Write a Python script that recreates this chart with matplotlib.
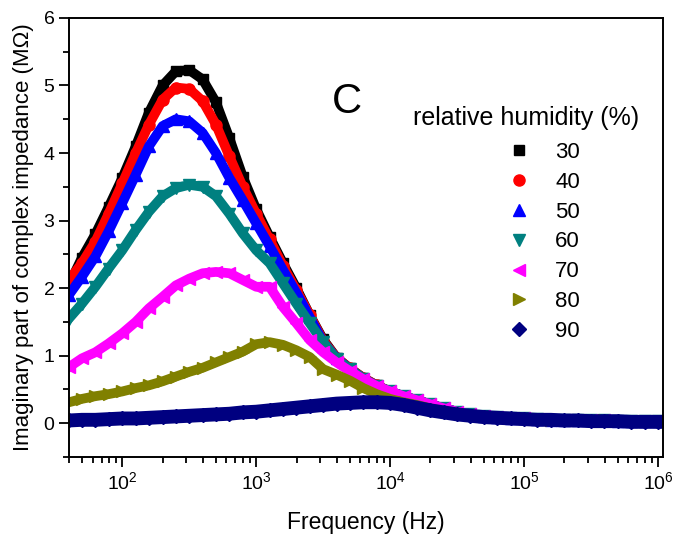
import numpy as np
import matplotlib
matplotlib.use('Agg')
import matplotlib.pyplot as plt
from matplotlib.ticker import MultipleLocator, LogLocator, NullFormatter

plt.rcParams['font.family'] = 'Liberation Sans'
plt.rcParams['mathtext.fontset'] = 'custom'
plt.rcParams['mathtext.rm'] = 'Liberation Sans'
plt.rcParams['mathtext.it'] = 'Liberation Sans'
plt.rcParams['mathtext.bf'] = 'Liberation Sans'

# frequency points (Hz)
freq = [40, 50, 63, 79, 100, 126, 158, 200, 251, 316, 398, 501, 631, 794,
        1000, 1259, 1585, 1995, 2512, 3162, 3981, 5012, 6310, 7943,
        1e4, 12589, 15849, 19953, 25119, 31623, 39811, 50119, 63096, 79433,
        1e5, 125893, 158489, 199526, 251189, 316228, 398107, 501187, 630957, 794328, 1e6]

# imaginary impedance (MOhm) for each relative humidity
rh30 = [2.05, 2.45, 2.8, 3.2, 3.63, 4.1, 4.6, 5.0, 5.21, 5.23, 5.09, 4.75, 4.22, 3.65,
        3.17, 2.76, 2.37, 2.0, 1.6, 1.24, 0.97, 0.81, 0.67, 0.56,
        0.47, 0.4, 0.34, 0.28, 0.22, 0.17, 0.13, 0.1, 0.09, 0.08,
        0.07, 0.06, 0.05, 0.05, 0.04, 0.04, 0.04, 0.03, 0.03, 0.03, 0.03]
rh40 = [2.12, 2.37, 2.69, 3.1, 3.55, 4.0, 4.42, 4.79, 4.97, 4.95, 4.77, 4.42, 3.95, 3.5,
        3.1, 2.72, 2.33, 1.97, 1.6, 1.22, 0.97, 0.81, 0.67, 0.56,
        0.47, 0.4, 0.34, 0.28, 0.22, 0.17, 0.13, 0.1, 0.09, 0.08,
        0.07, 0.06, 0.05, 0.05, 0.04, 0.04, 0.04, 0.03, 0.03, 0.03, 0.03]
rh50 = [1.9, 2.17, 2.47, 2.84, 3.26, 3.68, 4.1, 4.4, 4.5, 4.47, 4.3, 4.0, 3.63, 3.3,
        2.96, 2.62, 2.27, 1.93, 1.57, 1.2, 0.96, 0.8, 0.66, 0.55,
        0.47, 0.4, 0.34, 0.28, 0.22, 0.17, 0.13, 0.1, 0.09, 0.08,
        0.07, 0.06, 0.05, 0.05, 0.04, 0.04, 0.04, 0.03, 0.03, 0.03, 0.03]
rh60 = [1.55, 1.77, 2.02, 2.29, 2.56, 2.86, 3.13, 3.36, 3.48, 3.53, 3.5, 3.36, 3.1, 2.81,
        2.56, 2.37, 2.07, 1.77, 1.48, 1.2, 0.95, 0.8, 0.66, 0.55,
        0.47, 0.4, 0.34, 0.28, 0.22, 0.17, 0.13, 0.1, 0.09, 0.08,
        0.07, 0.06, 0.05, 0.05, 0.04, 0.04, 0.04, 0.03, 0.03, 0.03, 0.03]
rh70 = [0.83, 0.96, 1.05, 1.18, 1.33, 1.5, 1.7, 1.87, 2.04, 2.14, 2.22, 2.24, 2.22, 2.12,
        2.02, 2.02, 1.72, 1.48, 1.23, 1.05, 0.9, 0.77, 0.65, 0.55,
        0.47, 0.4, 0.34, 0.28, 0.22, 0.17, 0.13, 0.1, 0.09, 0.08,
        0.07, 0.06, 0.05, 0.05, 0.04, 0.04, 0.04, 0.03, 0.03, 0.03, 0.03]
rh80 = [0.31, 0.36, 0.4, 0.43, 0.47, 0.52, 0.56, 0.62, 0.69, 0.76, 0.82, 0.9, 0.98, 1.06,
        1.17, 1.2, 1.16, 1.08, 0.98, 0.8, 0.72, 0.63, 0.52, 0.43,
        0.36, 0.31, 0.27, 0.22, 0.18, 0.15, 0.12, 0.1, 0.09, 0.08,
        0.07, 0.06, 0.05, 0.05, 0.04, 0.04, 0.04, 0.03, 0.03, 0.03, 0.03]
rh90 = [0.04, 0.05, 0.05, 0.06, 0.07, 0.07, 0.08, 0.09, 0.1, 0.11, 0.12, 0.13, 0.14, 0.16,
        0.17, 0.19, 0.21, 0.23, 0.25, 0.27, 0.29, 0.3, 0.31, 0.31,
        0.3, 0.27, 0.23, 0.19, 0.16, 0.13, 0.11, 0.09, 0.08, 0.07,
        0.06, 0.05, 0.05, 0.04, 0.04, 0.03, 0.03, 0.03, 0.02, 0.02, 0.02]

labels = ['30', '40', '50', '60', '70', '80', '90']
series = [rh30, rh40, rh50, rh60, rh70, rh80, rh90]
colors = ['#000000', '#ff0000', '#0000ff', '#008080', '#ff00ff', '#808000', '#000080']
markers = ['s', 'o', '^', 'v', '<', '>', 'D']
msizes = [6.5, 8, 8.5, 8.5, 8.5, 8.5, 7.5]
bandw = [7, 7, 7, 7, 7, 7, 10]

fig = plt.figure(figsize=(6.73, 5.44), dpi=100)
ax = fig.add_axes([0.1025, 0.16, 0.8826, 0.807])

for vals, c, m, ms, bw, lab in zip(series, colors, markers, msizes, bandw, labels):
    ax.plot(freq, vals, '-', color=c, lw=bw, solid_joinstyle='round')
    ax.plot(freq, vals, linestyle='none', marker=m, color=c, ms=ms, label=lab)

ax.set_xscale('log')
ax.set_xlim(40, 1.09e6)
ax.set_ylim(-0.5, 6)
ax.yaxis.set_major_locator(MultipleLocator(1))
ax.yaxis.set_minor_locator(MultipleLocator(0.5))
ax.xaxis.set_major_locator(LogLocator(base=10))
ax.xaxis.set_minor_locator(LogLocator(base=10, subs=np.arange(2, 10)))
ax.xaxis.set_minor_formatter(NullFormatter())

ax.tick_params(which='major', direction='out', length=7, width=1.3, labelsize=14)
ax.tick_params(which='minor', direction='out', length=4, width=1.3)
ax.tick_params(top=False, right=False, which='both')
for s in ax.spines.values():
    s.set_linewidth(1.4)

ax.set_xlabel('Frequency (Hz)', fontsize=16.5, labelpad=13)
ax.set_ylabel('Imaginary part of complex impedance (M\u03a9)', fontsize=16, labelpad=7)

ax.text(0.468, 0.808, 'C', transform=ax.transAxes, fontsize=30, ha='center', va='center')
ax.text(0.579, 0.772, 'relative humidity (%)', transform=ax.transAxes,
        fontsize=18, ha='left', va='center')
ax.legend(loc='upper left', bbox_to_anchor=(0.740, 0.718), frameon=False,
          fontsize=16, handlelength=0.95, handletextpad=1.15, labelspacing=0.40,
          borderpad=0, borderaxespad=0)

fig.savefig('out.png', dpi=100)
